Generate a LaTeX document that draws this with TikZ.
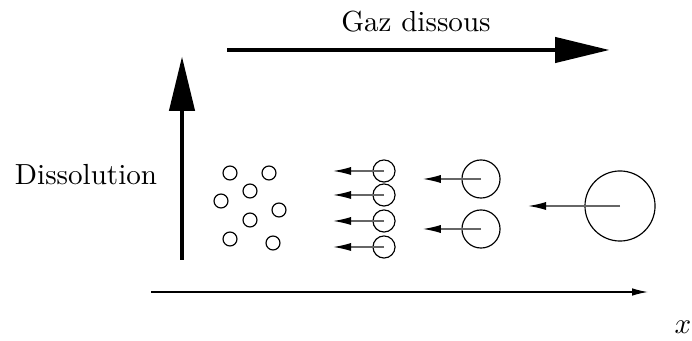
\documentclass[tikz,border=0pt]{standalone}
\usepackage{tikz}
\usetikzlibrary{positioning,arrows.meta}
\tikzset{
  bulle/.style={circle, draw, inner sep=0pt, line width=0.4pt},
  bpetite/.style={bulle, minimum size=4.8pt},
  bmoy/.style={bulle, minimum size=7.6pt},
  bgrande/.style={bulle, minimum size=13.1pt},
  benorme/.style={bulle, minimum size=24.1pt},
  fleche/.style={-{Latex[length=6.2pt,width=2.8pt,black]}, draw=black!60, line width=0.45pt},
  grosse/.style={-{Triangle[length=18.5pt,width=9pt,line width=0pt]}, line width=1.4pt},
  axe/.style={-{Latex[length=5.5pt,width=2.6pt]}, line width=0.45pt},
  etq/.style={font=\normalsize},
}
\begin{document}
\begin{tikzpicture}[x=0.344pt, y=-0.344pt]
  \useasboundingbox (0,0) rectangle (692,341);
  % grandes fleches
  \coordinate (gd0) at (227,50);
  \coordinate (gd1) at (609,50);
  \draw[grosse] (gd0) -- (gd1);
  \node[etq] (gaz) at (416,22) {Gaz dissous};
  \coordinate (ds0) at (182,260);
  \coordinate (ds1) at (182,57);
  \draw[grosse] (ds0) -- (ds1);
  \node[etq] (diss) at (86,175) {Dissolution};
  % axe x
  \coordinate (ax0) at (151,292);
  \coordinate (ax1) at (648,292);
  \draw[axe] (ax0) -- (ax1);
  \node[etq] (xlab) at (683,327) {$x$};
  % petites bulles
  \node[bpetite] (p1) at (230,173) {};
  \node[bpetite] (p2) at (269,173) {};
  \node[bpetite] (p3) at (250,191) {};
  \node[bpetite] (p4) at (221,201) {};
  \node[bpetite] (p5) at (279,210) {};
  \node[bpetite] (p6) at (250,220) {};
  \node[bpetite] (p7) at (230,239) {};
  \node[bpetite] (p8) at (273,243) {};
  % bulles moyennes
  \node[bmoy] (m1) at (384,171) {};
  \node[bmoy] (m2) at (384,195) {};
  \node[bmoy] (m3) at (384,221) {};
  \node[bmoy] (m4) at (384,247) {};
  \coordinate[left=17.5pt of m1.center] (tm1);
  \coordinate[left=17.5pt of m2.center] (tm2);
  \coordinate[left=17.5pt of m3.center] (tm3);
  \coordinate[left=17.5pt of m4.center] (tm4);
  \draw[fleche] (m1.center) -- (tm1);
  \draw[fleche] (m2.center) -- (tm2);
  \draw[fleche] (m3.center) -- (tm3);
  \draw[fleche] (m4.center) -- (tm4);
  % grandes bulles
  \node[bgrande] (g1) at (481,179) {};
  \node[bgrande] (g2) at (481,229) {};
  \coordinate[left=20pt of g1.center] (tg1);
  \coordinate[left=20pt of g2.center] (tg2);
  \draw[fleche] (g1.center) -- (tg1);
  \draw[fleche] (g2.center) -- (tg2);
  % bulle enorme
  \node[benorme] (e1) at (620,206) {};
  \coordinate[left=31.6pt of e1.center] (te1);
  \draw[fleche] (e1.center) -- (te1);
\end{tikzpicture}
\end{document}
